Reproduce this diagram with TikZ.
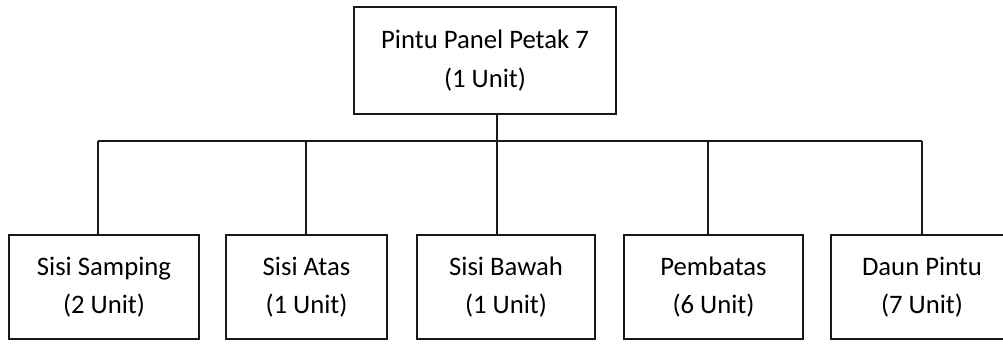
\documentclass[tikz,border=0pt]{standalone}
\usepackage{fontspec}
\setmainfont{Carlito}
\begin{document}
\begin{tikzpicture}[x=1pt,y=-1pt,
  box/.style={draw=black!90, line width=1.7pt, align=center, inner sep=0pt,
    minimum height=104pt, font=\fontsize{26.7}{38.5}\selectfont},
  conn/.style={draw=black!90, line width=1.7pt}]
\useasboundingbox (0,0) rectangle (1003,343);
\clip (0,0) rectangle (1003,343);
\node[box, minimum width=262pt, minimum height=107pt] (top) at (485,60.5) {Pintu Panel Petak 7\\(1 Unit)};
\node[box, minimum width=190pt] (c1) at (104,287) {Sisi Samping\\(2 Unit)};
\node[box, minimum width=161pt] (c2) at (306.5,287) {Sisi Atas\\(1 Unit)};
\node[box, minimum width=178pt] (c3) at (506,287) {Sisi Bawah\\(1 Unit)};
\node[box, minimum width=179pt] (c4) at (713.5,287) {Pembatas\\(6 Unit)};
\node[box, minimum width=182pt] (c5) at (922,287) {Daun Pintu\\(7 Unit)};
\coordinate (j) at (497,141);
\coordinate (l) at (98,141);
\coordinate (r) at (922,141);
\draw[conn] ([xshift=12pt]top.south) -- (j);
\draw[conn] (l) -- (r);
\draw[conn] ([xshift=-6pt]c1.north) -- (l);
\draw[conn] ([xshift=-0.5pt]c2.north) -- ([xshift=-0.5pt]c2.north |- j);
\draw[conn] ([xshift=-9pt]c3.north) -- (j);
\draw[conn] ([xshift=-5.5pt]c4.north) -- ([xshift=-5.5pt]c4.north |- j);
\draw[conn] (c5.north) -- (r);
\end{tikzpicture}
\end{document}
